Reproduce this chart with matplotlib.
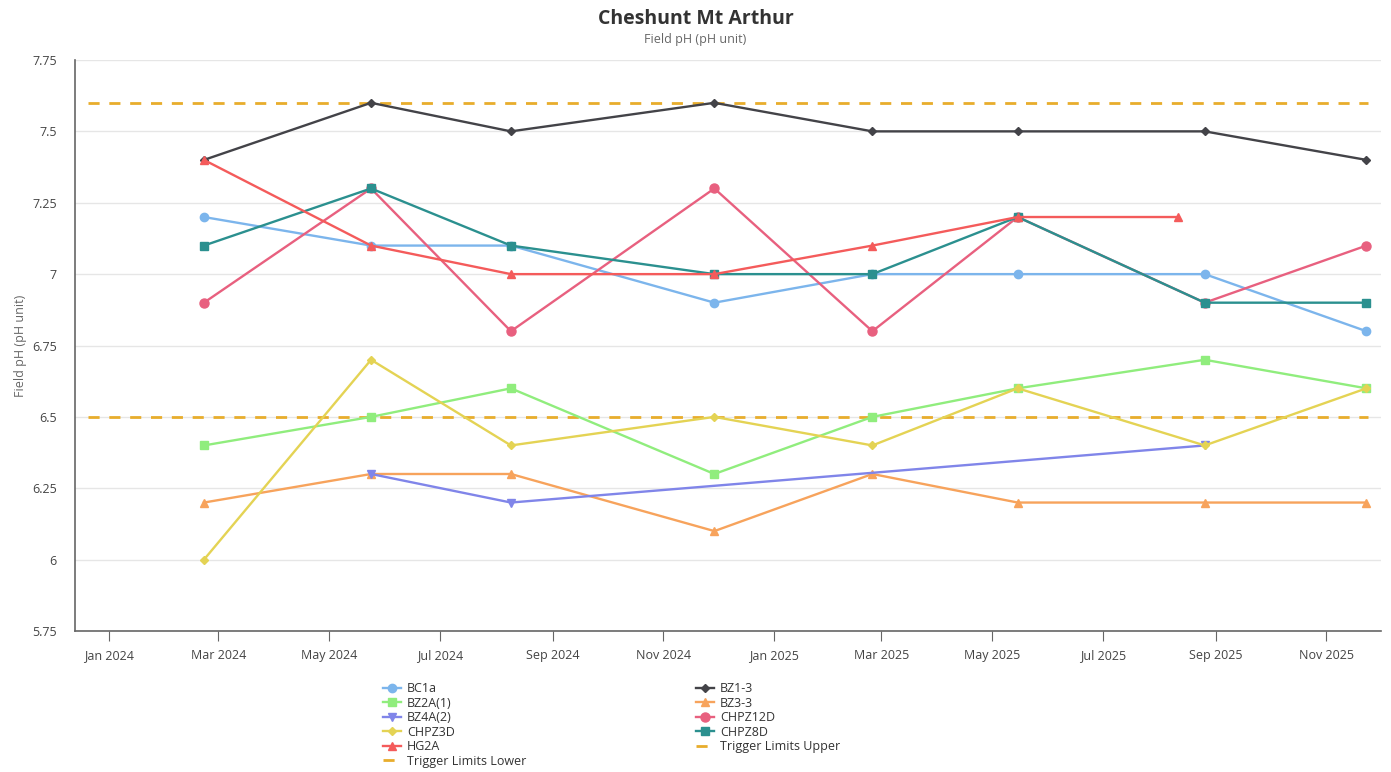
import numpy as np
import pandas as pd
import matplotlib
matplotlib.use("Agg")
import matplotlib.pyplot as plt
import matplotlib.dates as mdates
from matplotlib.ticker import FuncFormatter

plt.rcParams['font.family'] = ['Open Sans', 'DejaVu Sans']

# sampling dates
dates = pd.to_datetime(["2024-02-22", "2024-05-24", "2024-08-09", "2024-11-29",
                        "2025-02-24", "2025-05-15", "2025-08-26", "2025-11-23"])
hg2a_dates = pd.to_datetime(["2024-02-22", "2024-05-24", "2024-08-09", "2024-11-29",
                             "2025-02-24", "2025-05-15", "2025-08-11"])
bz4a_dates = pd.to_datetime(["2024-05-24", "2024-08-09", "2025-08-26"])
limit_dates = pd.to_datetime(["2023-12-20", "2025-11-24"])

bc1a = [7.2, 7.1, 7.1, 6.9, 7.0, 7.0, 7.0, 6.8]
bz1_3 = [7.4, 7.6, 7.5, 7.6, 7.5, 7.5, 7.5, 7.4]
bz2a_1 = [6.4, 6.5, 6.6, 6.3, 6.5, 6.6, 6.7, 6.6]
bz3_3 = [6.2, 6.3, 6.3, 6.1, 6.3, 6.2, 6.2, 6.2]
bz4a_2 = [6.3, 6.2, 6.4]
chpz12d = [6.9, 7.3, 6.8, 7.3, 6.8, 7.2, 6.9, 7.1]
chpz3d = [6.0, 6.7, 6.4, 6.5, 6.4, 6.6, 6.4, 6.6]
chpz8d = [7.1, 7.3, 7.1, 7.0, 7.0, 7.2, 6.9, 6.9]
hg2a = [7.4, 7.1, 7.0, 7.0, 7.1, 7.2, 7.2]
limit_lower = [6.5, 6.5]
limit_upper = [7.6, 7.6]

series = [
    ("BC1a", dates, bc1a, "#7cb5ec", "o", 6),
    ("BZ1-3", dates, bz1_3, "#434348", "D", 4.5),
    ("BZ2A(1)", dates, bz2a_1, "#90ed7d", "s", 6),
    ("BZ3-3", dates, bz3_3, "#f7a35c", "^", 6),
    ("BZ4A(2)", bz4a_dates, bz4a_2, "#8085e9", "v", 6),
    ("CHPZ12D", dates, chpz12d, "#e8607f", "o", 6.5),
    ("CHPZ3D", dates, chpz3d, "#e4d354", "D", 4.5),
    ("CHPZ8D", dates, chpz8d, "#2b908f", "s", 6),
    ("HG2A", hg2a_dates, hg2a, "#f45b5b", "^", 6),
]

fig = plt.figure(figsize=(13.91, 7.72), dpi=100)
ax = fig.add_axes([0.0539, 0.1826, 0.9389, 0.7397])

handles = {}
for name, x, y, c, m, ms in series:
    h, = ax.plot(x, y, color=c, marker=m, markersize=ms, lw=1.7, label=name, zorder=3)
    handles[name] = h

gold = "#e8ad2c"
h, = ax.plot(limit_dates, limit_lower, color=gold, lw=2, dashes=(4, 3.5), label="Trigger Limits Lower", zorder=2)
handles["Trigger Limits Lower"] = h
h, = ax.plot(limit_dates, limit_upper, color=gold, lw=2, dashes=(4, 3.5), label="Trigger Limits Upper", zorder=2)
handles["Trigger Limits Upper"] = h

ax.set_xlim(pd.Timestamp("2023-12-13"), pd.Timestamp("2025-12-01"))
ax.set_ylim(5.75, 7.75)
ax.set_yticks(np.arange(5.75, 7.76, 0.25))
ax.yaxis.set_major_formatter(FuncFormatter(lambda v, p: "%g" % v))
ax.xaxis.set_major_locator(mdates.MonthLocator(bymonth=[1, 3, 5, 7, 9, 11]))
ax.xaxis.set_major_formatter(mdates.DateFormatter("%b %Y"))

ax.grid(axis="y", color="#e6e6e6", lw=1)
ax.set_axisbelow(True)
for s in ["top", "right"]:
    ax.spines[s].set_visible(False)
for s in ["left", "bottom"]:
    ax.spines[s].set_color("#666666")
    ax.spines[s].set_linewidth(1.2)
ax.tick_params(axis="y", length=0, labelsize=9, labelcolor="#444444", pad=13)
ax.tick_params(axis="x", length=7, color="#666666", labelsize=9, labelcolor="#444444", pad=6)
ax.set_ylabel("Field pH (pH unit)", fontsize=9, color="#666666", labelpad=4)

fig.text(0.5, 0.975, "Cheshunt Mt Arthur", ha="center", va="center",
         fontsize=14, fontweight="bold", color="#333333")
fig.text(0.5, 0.949, "Field pH (pH unit)", ha="center", va="center",
         fontsize=9, color="#666666")

order = ["BC1a", "BZ2A(1)", "BZ4A(2)", "CHPZ3D", "HG2A", "Trigger Limits Lower",
         "BZ1-3", "BZ3-3", "CHPZ12D", "CHPZ8D", "Trigger Limits Upper"]
leg = fig.legend([handles[k] for k in order], order, ncol=2, loc="upper left",
                 frameon=False, fontsize=9, handlelength=1.4, handletextpad=0.5,
                 labelspacing=0.12, columnspacing=13.6, borderaxespad=0)
for t in leg.get_texts():
    t.set_color("#333333")
leg.set_bbox_to_anchor((0.272, 0.123), transform=fig.transFigure)

fig.savefig("out.png", dpi=100)
